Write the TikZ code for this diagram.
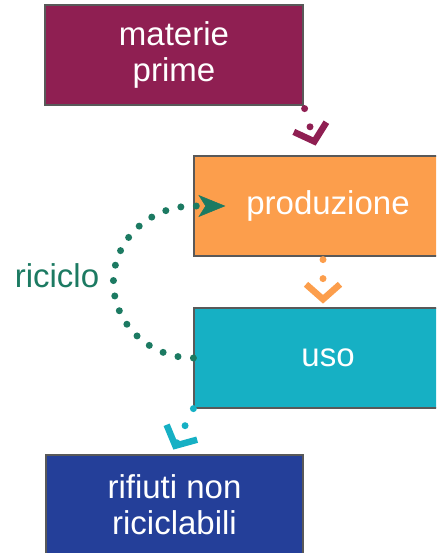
\documentclass[tikz,border=0pt]{standalone}
\usepackage{fontspec}
\setmainfont{Liberation Sans}
\usetikzlibrary{arrows.meta, positioning}
\definecolor{mpcol}{RGB}{143,31,82}
\definecolor{prodcol}{RGB}{252,158,76}
\definecolor{usocol}{RGB}{22,176,196}
\definecolor{rifcol}{RGB}{36,63,153}
\definecolor{riccol}{RGB}{28,122,98}

\begin{document}
\begin{tikzpicture}[x=1pt, y=-1pt,
    box/.style={rectangle, draw=black!65, line width=1.2pt, text=white, align=center, inner sep=0pt, font=\fontsize{33}{36}\selectfont},
    dots/.style={line width=7pt, line cap=round, dash pattern=on 0pt off 19pt},
    barb/.style={-{Straight Barb[length=15pt, width=34pt, line width=6.5pt]}}]

    \clip (0,0) rectangle (436,553);

    % Boxes
    \node at (174, 55) [box, fill=mpcol, minimum width=258pt, minimum height=100pt] (mp) {materie\\prime};
    \node at (328, 206) [box, fill=prodcol, minimum width=268pt, minimum height=100pt] (prod) {produzione};
    \node at (328, 358) [box, fill=usocol, minimum width=268pt, minimum height=100pt] (uso) {uso};
    \node at (174.5, 505) [box, fill=rifcol, minimum width=257pt, minimum height=100pt] (rif) {rifiuti non\\riciclabili};
    \node at (57, 276) [text=riccol, font=\fontsize{33}{36}\selectfont] (ric) {riciclo};

    % Flow
    \coordinate (mpstart) at ([shift={(1,3)}]mp.south east);
    \coordinate (mpend) at ([shift={(12,40)}]mp.south east);
    \coordinate (prodstart) at ([shift={(-5,3)}]prod.south);
    \coordinate (prodend) at ([shift={(-5,47)}]prod.south);
    \coordinate (usoend) at ([shift={(-20,41)}]uso.south west);
    \draw [dots, mpcol, barb] (mpstart) -- (mpend);
    \draw [dots, prodcol, barb] (prodstart) -- (prodend);
    \draw [dots, usocol, barb] (uso.south west) -- (usoend);

    % Recycling loop
    \draw [dots, dash pattern=on 0pt off 15.5pt, riccol, -{Stealth[length=27pt, width=22pt, inset=7pt, line width=0.5pt]}] (uso.west) arc[start angle=90, end angle=270, x radius=80, y radius=76] -- ([xshift=32pt]prod.west);
\end{tikzpicture}
\end{document}
